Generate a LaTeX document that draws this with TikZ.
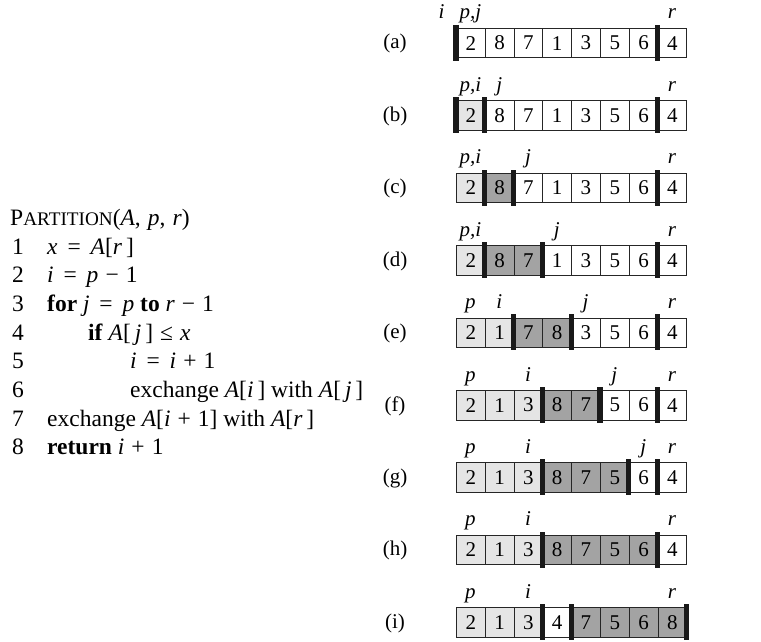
\documentclass[tikz,border=0pt]{standalone}
\usepackage{fontspec}
\setmainfont{Liberation Serif}
\definecolor{cw}{gray}{1}
\definecolor{cl}{gray}{0.9}
\definecolor{cd}{gray}{0.64}
\newcommand{\mainsz}{\fontsize{21}{25}\selectfont}
\newcommand{\codesz}{\fontsize{23.5}{28}\selectfont}
\newcommand{\scsz}{\fontsize{19.2}{22}\selectfont}
\newcommand{\es}{\hspace{0.42em}}
\newcommand{\os}{\hspace{0.3em}}
\tikzset{
  cell/.style={draw=black!85, line width=0.7pt, minimum width=28.8pt, minimum height=29.5pt,
    inner sep=0pt, anchor=north west, font=\mainsz},
  rowlab/.style={anchor=base, inner sep=0pt, font=\mainsz},
  ptr/.style={anchor=base, inner sep=0pt, font=\mainsz\itshape},
  code/.style={anchor=base west, inner sep=0pt, font=\codesz},
  bar/.style={fill=black!90}
}
\newcommand{\drawrow}[5]{%
  \pgfmathsetmacro\rtop{28+#1*72.4}
  \node[rowlab] (lab#2) at (395,\rtop+21) {(#2)};
  \foreach \v/\f [count=\k from 0] in {#3} {
    \node[cell, fill=c\f] (#2\k) at ({456+\k*28.8},\rtop) {\v};
  }
  \foreach \b in {#4} {
    \fill[bar] ({456+\b*28.8-2.6},\rtop-3.2) rectangle ++(5.2,35.9);
  }
  \foreach \q/\t in {#5} {
    \node[ptr] (#2p\q) at ({456+(\q+0.5)*28.8},\rtop-9) {\t};
  }
}
\begin{document}
\begin{tikzpicture}[x=1pt,y=-1pt]
\useasboundingbox (0,0) rectangle (761,642);
% pseudocode
\node[code] (title) at (10,225) {P{\scsz ARTITION}(\textit{A},\os\textit{p},\os\textit{r})};
\foreach \n in {1,...,8} {
  \node[code] (num\n) at (12,{254+(\n-1)*28.7}) {\n};
}
\node[code] (c1) at (47,254) {\textit{x}\es=\es\textit{A}[\textit{r}\,]};
\node[code] (c2) at (47,282.7) {\textit{i}\es=\es\textit{p}\os−\os1};
\node[code] (c3) at (47,311.4) {\textbf{for} \textit{j}\es=\es\textit{p} \textbf{to} \textit{r}\os−\os1};
\node[code] (c4) at (88,340.1) {\textbf{if} \textit{A}[\,\textit{j}\,]\os≤\os\textit{x}};
\node[code] (c5) at (130,368.8) {\textit{i}\es=\es\textit{i}\os+\os1};
\node[code] (c6) at (130,397.5) {exchange \textit{A}[\textit{i}\,] with \textit{A}[\,\textit{j}\,]};
\node[code] (c7) at (47,426.2) {exchange \textit{A}[\textit{i}\os+\os1] with \textit{A}[\textit{r}\,]};
\node[code] (c8) at (47,454.9) {\textbf{return} \textit{i}\os+\os1};
% rows
\drawrow{0}{a}{2/w,8/w,7/w,1/w,3/w,5/w,6/w,4/w}{0,7}{-1/i,0/{p,j},7/r}
\drawrow{1}{b}{2/l,8/w,7/w,1/w,3/w,5/w,6/w,4/w}{0,1,7}{0/{p,i},1/j,7/r}
\drawrow{2}{c}{2/l,8/d,7/w,1/w,3/w,5/w,6/w,4/w}{1,2,7}{0/{p,i},2/j,7/r}
\drawrow{3}{d}{2/l,8/d,7/d,1/w,3/w,5/w,6/w,4/w}{1,3,7}{0/{p,i},3/j,7/r}
\drawrow{4}{e}{2/l,1/l,7/d,8/d,3/w,5/w,6/w,4/w}{2,4,7}{0/p,1/i,4/j,7/r}
\drawrow{5}{f}{2/l,1/l,3/l,8/d,7/d,5/w,6/w,4/w}{3,5,7}{0/p,2/i,5/j,7/r}
\drawrow{6}{g}{2/l,1/l,3/l,8/d,7/d,5/d,6/w,4/w}{3,6,7}{0/p,2/i,6/j,7/r}
\drawrow{7}{h}{2/l,1/l,3/l,8/d,7/d,5/d,6/d,4/w}{3,7}{0/p,2/i,7/r}
\drawrow{8}{i}{2/l,1/l,3/l,4/w,7/d,5/d,6/d,8/d}{3,4,8}{0/p,2/i,7/r}
\end{tikzpicture}
\end{document}
